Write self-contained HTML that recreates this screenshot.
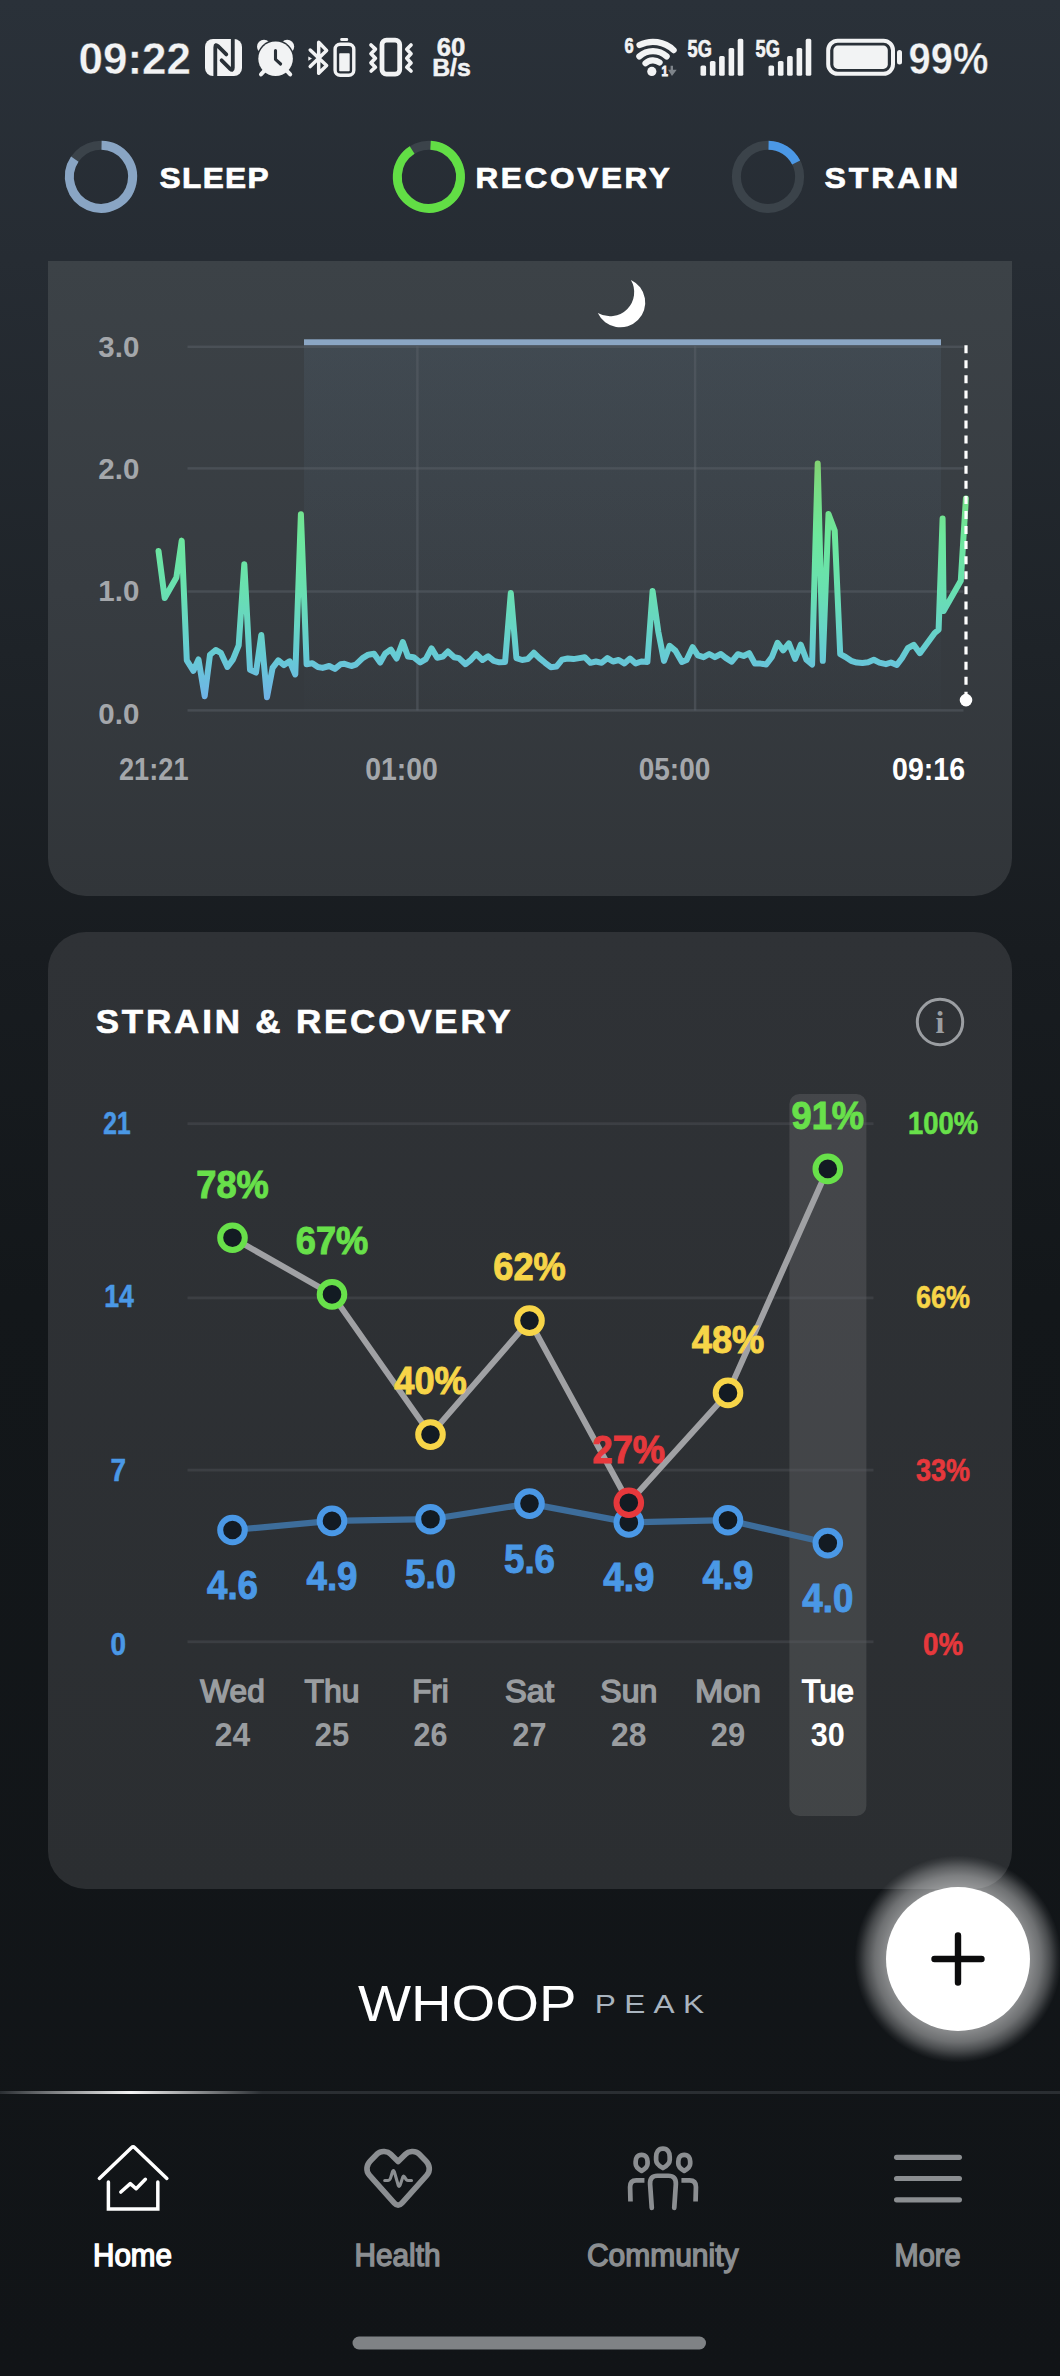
<!DOCTYPE html>
<html lang="en"><head><meta charset="utf-8"><title>WHOOP – Home</title>
<style>
html,body{margin:0;padding:0;background:#111417}
body{width:1060px;height:2376px;overflow:hidden;position:relative;font-family:"Liberation Sans",sans-serif}
#app{position:absolute;left:0;top:0;width:1060px;height:2376px;overflow:hidden;
 background:linear-gradient(180deg,#2a3139 0px,#262c33 260px,#1e2328 650px,#181c20 950px,#13171a 1300px,#111417 2376px)}
.card{position:absolute;left:48px;width:964px}
.c1{top:261px;height:635px;border-radius:0 0 38px 38px;background:linear-gradient(180deg,#3c4247 0,#373c41 330px,#313539 635px)}
.c2{top:932px;height:957px;border-radius:38px;background:linear-gradient(180deg,#2f3236 0,#2b2e31 957px)}
.fab{position:absolute;left:886px;top:1887px;width:144px;height:144px;border-radius:50%;background:#fff;
 }
.glow{position:absolute;left:854px;top:1855px;width:208px;height:208px;border-radius:50%;background:radial-gradient(circle closest-side,rgba(255,255,255,.5) 0,rgba(255,255,255,.5) 69.2%,rgba(255,255,255,.39) 80%,rgba(255,255,255,.23) 88.5%,rgba(255,255,255,.075) 95.2%,rgba(255,255,255,0) 99.5%)}
svg.layer{position:absolute;left:0;top:0}
svg text{font-family:"Liberation Sans",sans-serif}
</style></head><body>
<div id="app">
<div class="card c1"></div>
<div class="card c2"></div>
<div class="glow"></div>
<div class="fab"></div>

<svg class="layer" width="1060" height="2376" viewBox="0 0 1060 2376">
<defs>
<linearGradient id="lg" gradientUnits="userSpaceOnUse" x1="0" y1="450" x2="0" y2="700">
<stop offset="0" stop-color="#86cf6c"/><stop offset="0.16" stop-color="#78dd84"/><stop offset="0.34" stop-color="#6de79c"/><stop offset="0.56" stop-color="#69e0b0"/><stop offset="0.82" stop-color="#66cbd4"/><stop offset="1" stop-color="#70b2e8"/></linearGradient>
<linearGradient id="band" x1="0" y1="0" x2="0" y2="1"><stop offset="0" stop-color="#8bbbe5" stop-opacity="0.075"/><stop offset="0.5" stop-color="#8bbbe5" stop-opacity="0.04"/><stop offset="1" stop-color="#8bbbe5" stop-opacity="0.006"/></linearGradient>
<linearGradient id="navhl" x1="0" y1="0" x2="1" y2="0"><stop offset="0" stop-color="#fff" stop-opacity="0"/><stop offset="0.5" stop-color="#fff" stop-opacity="0.95"/><stop offset="1" stop-color="#fff" stop-opacity="0"/></linearGradient>
</defs>
<g id="statusbar">
<text x="78.5" y="74" font-size="45" font-weight="bold" fill="#f2f3f4" text-anchor="start" textLength="112.5" lengthAdjust="spacingAndGlyphs" stroke="#293037" stroke-width="0.4">09:22</text>
<rect x="205" y="38.9" width="37" height="37.2" rx="8" fill="#f2f3f4"/>
<path d="M215.3,77.5 V47.2 Q215.3,43.6 218,46.200 L226.3,54.4 M232.8,37.5 V67.8 Q232.8,71.400 230.100,68.800 L221.6,60.3" fill="none" stroke="#293037" stroke-width="3.8" stroke-linejoin="round" stroke-linecap="round"/>
<circle cx="264" cy="46.7" r="7" fill="#f2f3f4"/><circle cx="287.2" cy="46.7" r="7" fill="#f2f3f4"/>
<circle cx="275.6" cy="58.7" r="18.800" fill="#293037"/>
<path d="M265.2,69.8 L261,74.400 M286,69.8 L290.200,74.400" stroke="#f2f3f4" stroke-width="4" stroke-linecap="round" fill="none"/>
<circle cx="275.6" cy="58.7" r="17.3" fill="#f2f3f4"/>
<path d="M275.500,50.6 V59.3 L280.600,64" fill="none" stroke="#293037" stroke-width="3.100" stroke-linecap="round" stroke-linejoin="round"/>
<path d="M310.2,50 L326.6,65.6 L318.7,73.200 V42.300 L326.600,50.4 L310.2,66.600" fill="none" stroke="#f2f3f4" stroke-width="3.5" stroke-linejoin="round" stroke-linecap="round"/>
<path d="M308.3,56.4 L312,58.4 L308.3,60.8 Z" fill="#f2f3f4"/>
<rect x="340.2" y="38.100" width="8" height="3" rx="1.4" fill="#f2f3f4"/>
<rect x="335.1" y="44.2" width="18.7" height="31.100" rx="5" fill="none" stroke="#f2f3f4" stroke-width="3.4"/>
<rect x="339.2" y="53.2" width="10.5" height="18" rx="0.8" fill="#f2f3f4"/>
<rect x="382" y="40.100" width="17.7" height="34.100" rx="4.5" fill="none" stroke="#f2f3f4" stroke-width="4.8"/>
<path d="M371,45 L375.4,49.2 L371,53.8 L375.4,58.3 L371,62.900 L375.4,67.2 L371.200,71 M411,45 L406.8,49.2 L411,53.8 L406.8,58.3 L411,62.900 L406.8,67.2 L411,71" fill="none" stroke="#f2f3f4" stroke-width="3.7" stroke-linejoin="round" stroke-linecap="round"/>
<text x="451" y="56" font-size="25.5" font-weight="bold" fill="#f2f3f4" text-anchor="middle" textLength="28.6" lengthAdjust="spacingAndGlyphs" stroke="#f2f3f4" stroke-width="0.5">60</text>
<text x="451.5" y="76.1" font-size="24.8" font-weight="bold" fill="#f2f3f4" text-anchor="middle" textLength="38.7" lengthAdjust="spacingAndGlyphs" stroke="#f2f3f4" stroke-width="0.5">B/s</text>
<text x="624.6" y="53.2" font-size="22" font-weight="bold" fill="#f2f3f4" text-anchor="start" textLength="9.2" lengthAdjust="spacingAndGlyphs" stroke="#f2f3f4" stroke-width="0.7">6</text>
<path d="M639.52,45.04 A29.7,29.7 0 0 1 673.63,50.14" fill="none" stroke="#f2f3f4" stroke-width="6.2" stroke-linecap="round"/>
<path d="M639.35,56.34 A20.4,20.4 0 0 1 666.65,56.34" fill="none" stroke="#f2f3f4" stroke-width="6.2" stroke-linecap="round"/>
<path d="M645.51,63.18 A11.2,11.2 0 0 1 659.58,62.44" fill="none" stroke="#f2f3f4" stroke-width="6.2" stroke-linecap="round"/>
<circle cx="651.8" cy="71.400" r="4.6" fill="#f2f3f4"/>
<text x="661.6" y="75.9" font-size="14.6" font-weight="bold" fill="#f2f3f4" text-anchor="start" textLength="6.4" lengthAdjust="spacingAndGlyphs" stroke="#f2f3f4" stroke-width="0.9">1</text>
<path d="M670.6,65.7 h2.400 v4 h3.700 l-4.700,6.200 l-3.900,-6.200 h2.500 z" fill="#7e848a"/>
<text x="687.5" y="57.2" font-size="23.7" font-weight="bold" fill="#f2f3f4" text-anchor="start" textLength="24.3" lengthAdjust="spacingAndGlyphs" stroke="#f2f3f4" stroke-width="0.7">5G</text>
<rect x="700.5" y="65.5" width="5.6" height="10.3" rx="1.6" fill="#f2f3f4"/>
<rect x="709.9" y="61" width="5.6" height="14.8" rx="1.6" fill="#f2f3f4"/>
<rect x="719.1" y="56" width="5.6" height="19.8" rx="1.6" fill="#f2f3f4"/>
<rect x="728.6" y="48" width="5.6" height="27.8" rx="1.6" fill="#f2f3f4"/>
<rect x="737.7" y="38.8" width="5.6" height="37.0" rx="1.6" fill="#f2f3f4"/>
<text x="755.5" y="57.2" font-size="23.7" font-weight="bold" fill="#f2f3f4" text-anchor="start" textLength="24.3" lengthAdjust="spacingAndGlyphs" stroke="#f2f3f4" stroke-width="0.7">5G</text>
<rect x="768.5" y="65.5" width="5.6" height="10.3" rx="1.6" fill="#f2f3f4"/>
<rect x="777.9" y="61" width="5.6" height="14.8" rx="1.6" fill="#f2f3f4"/>
<rect x="787.1" y="56" width="5.6" height="19.8" rx="1.6" fill="#f2f3f4"/>
<rect x="796.6" y="48" width="5.6" height="27.8" rx="1.6" fill="#f2f3f4"/>
<rect x="805.7" y="38.8" width="5.6" height="37.0" rx="1.6" fill="#f2f3f4"/>
<rect x="828.2" y="40.7" width="64.8" height="33.1" rx="9.5" fill="none" stroke="#f2f3f4" stroke-width="4"/>
<rect x="833.4" y="45.6" width="54.4" height="23.3" rx="4.5" fill="#f2f3f4"/>
<rect x="897" y="50" width="5" height="14.5" rx="2.5" fill="#f2f3f4"/>
<text x="908.5" y="74" font-size="45" font-weight="bold" fill="#f2f3f4" text-anchor="start" textLength="80" lengthAdjust="spacingAndGlyphs" stroke="#293037" stroke-width="0.4">99%</text>
</g>
<g id="header">
<circle cx="101" cy="176.8" r="31.6" fill="none" stroke="#3b434a" stroke-width="9"/>
<path d="M101.55,145.20 A31.6,31.6 0 1 1 74.80,159.13" fill="none" stroke="#89a5c4" stroke-width="9"/>
<text x="159.6" y="188.4" font-size="29" font-weight="bold" fill="#fff" text-anchor="start" textLength="110.4" lengthAdjust="spacingAndGlyphs" style="letter-spacing:1.21px" stroke="#fff" stroke-width="0.7">SLEEP</text>
<circle cx="428.9" cy="176.8" r="31.6" fill="none" stroke="#3b434a" stroke-width="9"/>
<path d="M430.55,145.24 A31.6,31.6 0 1 1 412.15,150.00" fill="none" stroke="#62de45" stroke-width="9"/>
<text x="475.4" y="188.4" font-size="29" font-weight="bold" fill="#fff" text-anchor="start" textLength="197.2" lengthAdjust="spacingAndGlyphs" style="letter-spacing:2.5px" stroke="#fff" stroke-width="0.7">RECOVERY</text>
<circle cx="768" cy="176.8" r="31.6" fill="none" stroke="#3b434a" stroke-width="9"/>
<path d="M768.55,145.20 A31.6,31.6 0 0 1 796.16,162.45" fill="none" stroke="#4b98e6" stroke-width="9"/>
<text x="824.6" y="188.4" font-size="29" font-weight="bold" fill="#fff" text-anchor="start" textLength="136.4" lengthAdjust="spacingAndGlyphs" style="letter-spacing:2.56px" stroke="#fff" stroke-width="0.7">STRAIN</text>
</g>
<g id="sleepchart">
<rect x="304" y="345" width="637" height="365.5" fill="url(#band)"/>
<rect x="187.5" y="345.55" width="776" height="2.5" fill="#596067" fill-opacity="0.5"/>
<rect x="187.5" y="467.15" width="776" height="2.5" fill="#596067" fill-opacity="0.5"/>
<rect x="187.5" y="590.25" width="776" height="2.5" fill="#596067" fill-opacity="0.5"/>
<rect x="187.5" y="709.15" width="776" height="2.5" fill="#596067" fill-opacity="0.5"/>
<rect x="416.15" y="346" width="2.5" height="364.5" fill="#596067" fill-opacity="0.5"/>
<rect x="693.85" y="346" width="2.5" height="364.5" fill="#596067" fill-opacity="0.5"/>
<rect x="304" y="339.3" width="637" height="5.9" fill="#8ba6c4"/>
<path d="M630.9,279.9 A24.9,24.9 0 1 1 597.8,313 A24.2,24.2 0 0 0 630.9,279.9 Z" fill="#fff"/>
<text x="98.3" y="357" font-size="30" font-weight="bold" fill="#a4a7ab" text-anchor="start" textLength="41" lengthAdjust="spacingAndGlyphs">3.0</text>
<text x="98.3" y="478.8" font-size="30" font-weight="bold" fill="#a4a7ab" text-anchor="start" textLength="41" lengthAdjust="spacingAndGlyphs">2.0</text>
<text x="98.3" y="601.3" font-size="30" font-weight="bold" fill="#a4a7ab" text-anchor="start" textLength="41" lengthAdjust="spacingAndGlyphs">1.0</text>
<text x="98.3" y="723.7" font-size="30" font-weight="bold" fill="#a4a7ab" text-anchor="start" textLength="41" lengthAdjust="spacingAndGlyphs">0.0</text>
<polyline points="158.5,550.9 164.7,598.1 176.4,577.4 181.7,540.6 186.8,660.4 193.4,670.8 198.5,659.4 204.7,696.2 210.0,654.7 215.7,650.0 220.8,652.8 227.4,667.0 233.0,659.4 238.7,645.3 244.3,564.2 250.0,669.8 256.0,672.6 261.3,634.9 267.0,697.2 272.6,667.9 278.3,660.4 284.0,665.1 289.6,661.3 295.3,674.5 300.9,514.2 306.6,664.2 312.3,663.2 317.9,667.0 322.6,667.9 329.2,666.0 334.9,668.9 340.6,664.2 344.5,663.8 351.3,666.0 355.8,664.7 362.6,658.1 368.3,654.7 374.0,653.8 380.2,662.5 385.3,653.4 390.9,649.6 396.6,658.5 402.8,642.1 407.9,656.6 413.6,657.2 420.2,662.5 425.8,659.1 431.5,648.3 437.2,657.7 442.8,656.6 447.9,651.5 454.2,657.2 458.9,658.1 465.5,664.2 471.1,659.6 476.2,654.0 482.5,660.0 488.1,656.2 493.8,660.9 499.4,662.3 505.1,661.9 510.8,593.0 516.4,658.1 522.1,660.0 527.7,659.1 533.8,652.8 539.4,658.1 545.1,662.8 550.8,667.2 556.4,666.6 562.1,659.6 567.7,658.5 573.4,659.1 579.4,658.1 584.7,657.2 590.4,662.8 596.0,661.5 601.7,662.8 607.4,658.1 613.0,661.5 618.7,660.0 624.3,663.4 630.0,658.5 635.7,663.4 641.3,661.5 647.4,661.9 652.6,591.1 658.3,631.7 664.0,660.9 669.6,645.8 675.3,650.6 681.9,661.9 686.6,660.0 692.6,647.2 697.9,655.3 703.6,657.2 709.2,654.0 714.9,657.2 720.9,654.0 725.7,657.9 731.7,661.7 737.9,654.2 743.6,656.0 749.2,653.2 754.9,663.6 760.6,663.6 766.2,664.5 771.9,657.0 777.5,642.8 783.2,650.4 788.9,643.4 795.1,658.9 800.8,644.7 806.4,659.8 812.1,664.5 817.7,463.6 822.8,660.8 828.5,514.0 834.7,530.6 840.2,654.2 845.5,657.0 851.1,660.8 856.8,662.6 862.5,663.0 868.1,662.3 873.8,659.8 879.4,662.6 885.9,664.2 890.9,662.5 896.8,665.0 901.9,658.3 907.8,648.2 913.7,644.8 919.9,653.2 934.7,633.0 938.6,629.7 942.6,518.6 943.6,611.1 960.8,580.8 965.9,498.4" fill="none" stroke="url(#lg)" stroke-width="6" stroke-linejoin="round" stroke-linecap="round"/>
<line x1="966" y1="345.2" x2="966" y2="700" stroke="#fff" stroke-width="3.2" stroke-dasharray="8 7.07"/>
<circle cx="966" cy="700.1" r="6.3" fill="#fff"/>
<text x="119" y="779.8" font-size="30.5" font-weight="bold" fill="#a4a7ab" text-anchor="start" textLength="69.5" lengthAdjust="spacingAndGlyphs">21:21</text>
<text x="365.2" y="779.8" font-size="30.5" font-weight="bold" fill="#a4a7ab" text-anchor="start" textLength="72.7" lengthAdjust="spacingAndGlyphs">01:00</text>
<text x="638.7" y="779.8" font-size="30.5" font-weight="bold" fill="#a4a7ab" text-anchor="start" textLength="71.6" lengthAdjust="spacingAndGlyphs">05:00</text>
<text x="892.1" y="779.8" font-size="30.5" font-weight="bold" fill="#fff" text-anchor="start" textLength="73" lengthAdjust="spacingAndGlyphs">09:16</text>
</g>
<g id="strainrecovery">
<text x="95.7" y="1032.6" font-size="32.5" font-weight="bold" fill="#fff" text-anchor="start" textLength="417.7" lengthAdjust="spacingAndGlyphs" style="letter-spacing:2.62px" stroke="#fff" stroke-width="0.6">STRAIN &amp; RECOVERY</text>
<circle cx="940" cy="1022" r="22.7" fill="none" stroke="#9b9ea2" stroke-width="3"/>
<text x="940" y="1032.5" font-size="32" font-weight="bold" fill="#9b9ea2" text-anchor="middle" style="font-family:'Liberation Serif',serif">i</text>
<rect x="789.4" y="1094" width="77" height="722" rx="10" fill="#ffffff" fill-opacity="0.105"/>
<rect x="187.5" y="1122.3" width="686" height="2.8" fill="#5a5e63" fill-opacity="0.33"/>
<rect x="187.5" y="1296.5" width="686" height="2.8" fill="#5a5e63" fill-opacity="0.33"/>
<rect x="187.5" y="1468.6999999999998" width="686" height="2.8" fill="#5a5e63" fill-opacity="0.33"/>
<rect x="187.5" y="1640.3999999999999" width="686" height="2.8" fill="#5a5e63" fill-opacity="0.33"/>
<text x="117" y="1134" font-size="32" font-weight="bold" fill="#4a98e6" text-anchor="middle" textLength="27.3" lengthAdjust="spacingAndGlyphs" stroke="#4a98e6" stroke-width="0.6">21</text>
<text x="119" y="1307.3" font-size="32" font-weight="bold" fill="#4a98e6" text-anchor="middle" textLength="29.6" lengthAdjust="spacingAndGlyphs" stroke="#4a98e6" stroke-width="0.6">14</text>
<text x="118.3" y="1481" font-size="32" font-weight="bold" fill="#4a98e6" text-anchor="middle" textLength="15.5" lengthAdjust="spacingAndGlyphs" stroke="#4a98e6" stroke-width="0.6">7</text>
<text x="118.3" y="1655.3" font-size="32" font-weight="bold" fill="#4a98e6" text-anchor="middle" textLength="15.5" lengthAdjust="spacingAndGlyphs" stroke="#4a98e6" stroke-width="0.6">0</text>
<text x="943" y="1134" font-size="32" font-weight="bold" fill="#68e04a" text-anchor="middle" textLength="70" lengthAdjust="spacingAndGlyphs" stroke="#68e04a" stroke-width="0.6">100%</text>
<text x="943" y="1307.5" font-size="32" font-weight="bold" fill="#f7d548" text-anchor="middle" textLength="54" lengthAdjust="spacingAndGlyphs" stroke="#f7d548" stroke-width="0.6">66%</text>
<text x="943" y="1481" font-size="32" font-weight="bold" fill="#e6383c" text-anchor="middle" textLength="54" lengthAdjust="spacingAndGlyphs" stroke="#e6383c" stroke-width="0.6">33%</text>
<text x="943" y="1655.2" font-size="32" font-weight="bold" fill="#e6383c" text-anchor="middle" textLength="40" lengthAdjust="spacingAndGlyphs" stroke="#e6383c" stroke-width="0.6">0%</text>
<polyline points="232.5,1530.0 332.0,1520.9 430.5,1519.2 529.5,1503.6 628.8,1522.4 728.0,1520.2 827.8,1543.1" fill="none" stroke="#3d6d9b" stroke-width="6.2" stroke-linejoin="round"/>
<circle cx="232.5" cy="1530.0" r="12.3" fill="#131b23" stroke="#4a98e6" stroke-width="6"/>
<circle cx="332.0" cy="1520.9" r="12.3" fill="#131b23" stroke="#4a98e6" stroke-width="6"/>
<circle cx="430.5" cy="1519.2" r="12.3" fill="#131b23" stroke="#4a98e6" stroke-width="6"/>
<circle cx="529.5" cy="1503.6" r="12.3" fill="#131b23" stroke="#4a98e6" stroke-width="6"/>
<circle cx="628.8" cy="1522.4" r="12.3" fill="#131b23" stroke="#4a98e6" stroke-width="6"/>
<circle cx="728.0" cy="1520.2" r="12.3" fill="#131b23" stroke="#4a98e6" stroke-width="6"/>
<circle cx="827.8" cy="1543.1" r="12.3" fill="#131b23" stroke="#4a98e6" stroke-width="6"/>
<polyline points="232.5,1237.7 332.0,1294.4 430.5,1434.6 529.5,1320.6 628.8,1502.7 728.0,1392.9 827.8,1168.9" fill="none" stroke="#a0a1a4" stroke-width="6" stroke-linejoin="round"/>
<circle cx="232.5" cy="1237.7" r="12.3" fill="#131b23" stroke="#68e04a" stroke-width="6"/>
<circle cx="332.0" cy="1294.4" r="12.3" fill="#131b23" stroke="#68e04a" stroke-width="6"/>
<circle cx="430.5" cy="1434.6" r="12.3" fill="#131b23" stroke="#f7d548" stroke-width="6"/>
<circle cx="529.5" cy="1320.6" r="12.3" fill="#131b23" stroke="#f7d548" stroke-width="6"/>
<circle cx="628.8" cy="1502.7" r="12.3" fill="#131b23" stroke="#e6383c" stroke-width="6"/>
<circle cx="728.0" cy="1392.9" r="12.3" fill="#131b23" stroke="#f7d548" stroke-width="6"/>
<circle cx="827.8" cy="1168.9" r="12.3" fill="#131b23" stroke="#68e04a" stroke-width="6"/>
<text x="232.5" y="1197.5" font-size="39.5" font-weight="bold" fill="#68e04a" text-anchor="middle" textLength="72.5" lengthAdjust="spacingAndGlyphs" stroke="#68e04a" stroke-width="1">78%</text>
<text x="332" y="1254.2" font-size="39.5" font-weight="bold" fill="#68e04a" text-anchor="middle" textLength="72.5" lengthAdjust="spacingAndGlyphs" stroke="#68e04a" stroke-width="1">67%</text>
<text x="430.5" y="1394.4" font-size="39.5" font-weight="bold" fill="#f7d548" text-anchor="middle" textLength="72.5" lengthAdjust="spacingAndGlyphs" stroke="#f7d548" stroke-width="1">40%</text>
<text x="529.5" y="1280.4" font-size="39.5" font-weight="bold" fill="#f7d548" text-anchor="middle" textLength="72.5" lengthAdjust="spacingAndGlyphs" stroke="#f7d548" stroke-width="1">62%</text>
<text x="628.8" y="1462.5" font-size="39.5" font-weight="bold" fill="#e6383c" text-anchor="middle" textLength="72.5" lengthAdjust="spacingAndGlyphs" stroke="#e6383c" stroke-width="1">27%</text>
<text x="728" y="1352.7" font-size="39.5" font-weight="bold" fill="#f7d548" text-anchor="middle" textLength="72.5" lengthAdjust="spacingAndGlyphs" stroke="#f7d548" stroke-width="1">48%</text>
<text x="827.8" y="1128.7" font-size="39.5" font-weight="bold" fill="#68e04a" text-anchor="middle" textLength="72.5" lengthAdjust="spacingAndGlyphs" stroke="#68e04a" stroke-width="1">91%</text>
<text x="232.5" y="1599.0" font-size="40" font-weight="bold" fill="#4a98e6" text-anchor="middle" textLength="51" lengthAdjust="spacingAndGlyphs" stroke="#4a98e6" stroke-width="1">4.6</text>
<text x="332" y="1589.9" font-size="40" font-weight="bold" fill="#4a98e6" text-anchor="middle" textLength="51" lengthAdjust="spacingAndGlyphs" stroke="#4a98e6" stroke-width="1">4.9</text>
<text x="430.5" y="1588.2" font-size="40" font-weight="bold" fill="#4a98e6" text-anchor="middle" textLength="51" lengthAdjust="spacingAndGlyphs" stroke="#4a98e6" stroke-width="1">5.0</text>
<text x="529.5" y="1572.6" font-size="40" font-weight="bold" fill="#4a98e6" text-anchor="middle" textLength="51" lengthAdjust="spacingAndGlyphs" stroke="#4a98e6" stroke-width="1">5.6</text>
<text x="628.8" y="1591.4" font-size="40" font-weight="bold" fill="#4a98e6" text-anchor="middle" textLength="51" lengthAdjust="spacingAndGlyphs" stroke="#4a98e6" stroke-width="1">4.9</text>
<text x="728" y="1589.2" font-size="40" font-weight="bold" fill="#4a98e6" text-anchor="middle" textLength="51" lengthAdjust="spacingAndGlyphs" stroke="#4a98e6" stroke-width="1">4.9</text>
<text x="827.8" y="1612.1" font-size="40" font-weight="bold" fill="#4a98e6" text-anchor="middle" textLength="51" lengthAdjust="spacingAndGlyphs" stroke="#4a98e6" stroke-width="1">4.0</text>
<text x="232.5" y="1702" font-size="30.5" font-weight="normal" fill="#9a9da0" text-anchor="middle" textLength="64.5" lengthAdjust="spacingAndGlyphs" stroke="#9a9da0" stroke-width="1.4">Wed</text>
<text x="232.5" y="1746" font-size="33" font-weight="bold" fill="#9a9da0" text-anchor="middle" textLength="35.5" lengthAdjust="spacingAndGlyphs">24</text>
<text x="332" y="1702" font-size="30.5" font-weight="normal" fill="#9a9da0" text-anchor="middle" textLength="55.0" lengthAdjust="spacingAndGlyphs" stroke="#9a9da0" stroke-width="1.4">Thu</text>
<text x="332" y="1746" font-size="33" font-weight="bold" fill="#9a9da0" text-anchor="middle" textLength="34.5" lengthAdjust="spacingAndGlyphs">25</text>
<text x="430.5" y="1702" font-size="30.5" font-weight="normal" fill="#9a9da0" text-anchor="middle" textLength="36.5" lengthAdjust="spacingAndGlyphs" stroke="#9a9da0" stroke-width="1.4">Fri</text>
<text x="430.5" y="1746" font-size="33" font-weight="bold" fill="#9a9da0" text-anchor="middle" textLength="34.0" lengthAdjust="spacingAndGlyphs">26</text>
<text x="529.5" y="1702" font-size="30.5" font-weight="normal" fill="#9a9da0" text-anchor="middle" textLength="49.0" lengthAdjust="spacingAndGlyphs" stroke="#9a9da0" stroke-width="1.4">Sat</text>
<text x="529.5" y="1746" font-size="33" font-weight="bold" fill="#9a9da0" text-anchor="middle" textLength="34.0" lengthAdjust="spacingAndGlyphs">27</text>
<text x="628.8" y="1702" font-size="30.5" font-weight="normal" fill="#9a9da0" text-anchor="middle" textLength="57.0" lengthAdjust="spacingAndGlyphs" stroke="#9a9da0" stroke-width="1.4">Sun</text>
<text x="628.8" y="1746" font-size="33" font-weight="bold" fill="#9a9da0" text-anchor="middle" textLength="35.5" lengthAdjust="spacingAndGlyphs">28</text>
<text x="728" y="1702" font-size="30.5" font-weight="normal" fill="#9a9da0" text-anchor="middle" textLength="66.0" lengthAdjust="spacingAndGlyphs" stroke="#9a9da0" stroke-width="1.4">Mon</text>
<text x="728" y="1746" font-size="33" font-weight="bold" fill="#9a9da0" text-anchor="middle" textLength="34.5" lengthAdjust="spacingAndGlyphs">29</text>
<text x="827.8" y="1702" font-size="30.5" font-weight="normal" fill="#fff" text-anchor="middle" textLength="52.0" lengthAdjust="spacingAndGlyphs" stroke="#fff" stroke-width="1.4">Tue</text>
<text x="827.8" y="1746" font-size="33" font-weight="bold" fill="#fff" text-anchor="middle" textLength="34.0" lengthAdjust="spacingAndGlyphs">30</text>
</g>
<path d="M934.5,1959 H981.5 M958,1935.5 V1982.5" stroke="#0b0b0c" stroke-width="6.4" stroke-linecap="round" fill="none"/>
<g id="logo">
<text x="358" y="2021" font-size="50" font-weight="normal" fill="#fff" text-anchor="start" textLength="218.5" lengthAdjust="spacingAndGlyphs">WHOOP</text>
<text x="594.8" y="2012.6" font-size="25.8" font-weight="normal" fill="#a9b4bf" text-anchor="start" textLength="117.5" lengthAdjust="spacingAndGlyphs" style="letter-spacing:6.76px">PEAK</text>
</g>
<g id="nav">
<rect x="0" y="2091" width="1060" height="3" fill="#2a2e32"/>
<rect x="0" y="2091" width="262" height="3" fill="url(#navhl)"/>
<g transform="translate(85,2135) scale(0.09434)" fill="none" stroke="#fff" stroke-width="37" stroke-linecap="round" stroke-linejoin="round">
<path d="M152,460 L492,135 Q510,118 528,135 L868,460"/><path d="M248,497 V785 H772 V497" stroke-linejoin="miter"/><path d="M380,605 L480,515 L542,570 L640,470"/></g>
<g transform="translate(350,2135) scale(0.09434)" fill="none" stroke="#8b8e91" stroke-linecap="round" stroke-linejoin="round">
<path stroke-width="60" d="M510,282 L432,205 C400,172 330,160 290,200 L215,275 C175,315 165,380 205,425 L470,722 C495,750 525,750 550,722 L815,425 C855,380 845,315 805,275 L730,200 C690,160 620,172 588,205 Z"/>
<path stroke-width="33" d="M368,482 H405 Q425,482 435,440 L452,385 Q460,365 470,390 L512,535 Q522,555 532,530 L560,445 Q570,425 582,450 Q595,482 615,482 H652"/></g>
<g transform="translate(615,2135) scale(0.09434)" fill="none" stroke="#8b8e91" stroke-width="50" stroke-linecap="round" stroke-linejoin="round">
<path d="M508,145 C560,145 580,185 580,230 L580,265 C580,300 545,330 508,350 C471,330 436,300 436,265 L436,230 C436,185 456,145 508,145 Z"/>
<path d="M282,210 C328,210 345,245 345,280 L345,305 C345,335 315,362 282,380 C249,362 219,335 219,305 L219,280 C219,245 236,210 282,210 Z"/>
<path d="M734,210 C780,210 797,245 797,280 L797,305 C797,335 767,362 734,380 C701,362 671,335 671,305 L671,280 C671,245 688,210 734,210 Z"/>
<path d="M390,772 L372,520 Q368,432 450,432 H565 Q648,432 645,520 L628,772"/>
<path stroke-linecap="butt" d="M312,480 H225 Q160,480 160,550 L164,705 M704,480 H790 Q858,480 858,550 L854,705"/></g>
<rect x="894" y="2154.7000000000003" width="68" height="5.2" rx="2.6" fill="#8b8e91"/>
<rect x="894" y="2175.9" width="68" height="5.2" rx="2.6" fill="#8b8e91"/>
<rect x="894" y="2197.2000000000003" width="68" height="5.2" rx="2.6" fill="#8b8e91"/>
<text x="132.5" y="2265.8" font-size="30.5" font-weight="normal" fill="#fff" text-anchor="middle" textLength="79" lengthAdjust="spacingAndGlyphs" stroke="#fff" stroke-width="1.4">Home</text>
<text x="397.5" y="2265.8" font-size="30.5" font-weight="normal" fill="#8b8e91" text-anchor="middle" textLength="86" lengthAdjust="spacingAndGlyphs" stroke="#8b8e91" stroke-width="1.4">Health</text>
<text x="662.7" y="2265.8" font-size="30.5" font-weight="normal" fill="#8b8e91" text-anchor="middle" textLength="151.5" lengthAdjust="spacingAndGlyphs" stroke="#8b8e91" stroke-width="1.4">Community</text>
<text x="927.5" y="2265.8" font-size="30.5" font-weight="normal" fill="#8b8e91" text-anchor="middle" textLength="66" lengthAdjust="spacingAndGlyphs" stroke="#8b8e91" stroke-width="1.4">More</text>
<rect x="352.5" y="2336.5" width="353.5" height="13" rx="6.5" fill="#7f8285"/>
</g>
</svg>
</div>
</body></html>
